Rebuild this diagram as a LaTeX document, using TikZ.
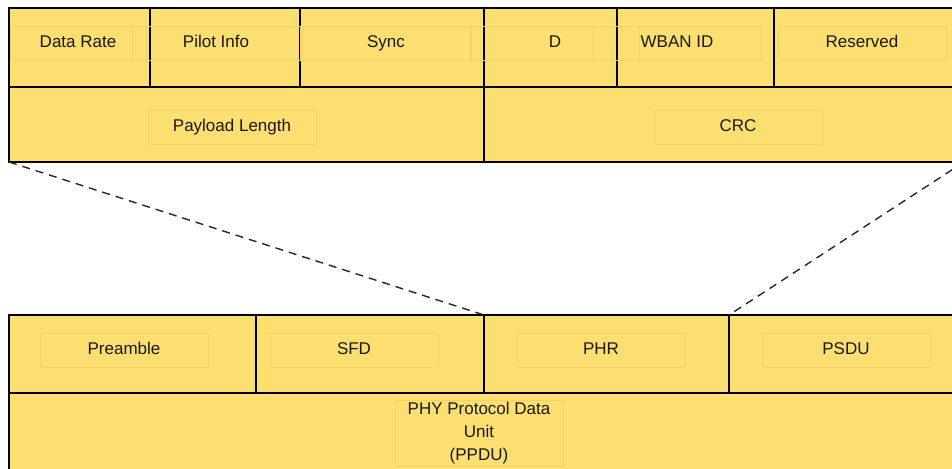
\documentclass[tikz,border=0pt]{standalone}
\usepackage{fontspec}
\setmainfont{Liberation Sans}
\definecolor{hdryellow}{HTML}{FDDF71}
\definecolor{faintedge}{HTML}{EFD36B}
\begin{document}
\begin{tikzpicture}[x=1pt, y=-1pt,
  cell/.style={shape=rectangle, draw=black, line width=1.2pt, fill=hdryellow, anchor=north west, inner sep=0pt, outer sep=0pt},
  fieldtxt/.style={shape=rectangle, draw=faintedge, line width=0.7pt, minimum width=168pt, minimum height=34pt, inner sep=2pt, text height=12.5pt, text depth=3.5pt, font=\fontsize{17}{23}\selectfont, text=black!90},
  zoomline/.style={draw=black!85, line width=1.4pt, dash pattern=on 8pt off 6pt}]
\useasboundingbox (0,0) rectangle (952,468);
% PHR header fields
\node[cell, minimum width=141pt, minimum height=79pt] (h1) at (9,8) {};
\node[cell, minimum width=150pt, minimum height=79pt] (h2) at (150,8) {};
\node[cell, minimum width=184pt, minimum height=79pt] (h3) at (300,8) {};
\node[cell, minimum width=133pt, minimum height=79pt] (h4) at (484,8) {};
\node[cell, minimum width=157pt, minimum height=79pt] (h5) at (617,8) {};
\node[cell, minimum width=190pt, minimum height=79pt] (h6) at (774,8) {};
\node[cell, minimum width=475pt, minimum height=75pt] (p1) at (9,87) {};
\node[cell, minimum width=480pt, minimum height=75pt] (p2) at (484,87) {};
% PPDU frame
\node[cell, minimum width=247pt, minimum height=78pt] (b1) at (9,315) {};
\node[cell, minimum width=228pt, minimum height=78pt] (b2) at (256,315) {};
\node[cell, minimum width=245pt, minimum height=78pt] (b3) at (484,315) {};
\node[cell, minimum width=235pt, minimum height=78pt] (b4) at (729,315) {};
\node[cell, minimum width=955pt, minimum height=90pt] (b5) at (9,393) {};
% labels
\node[fieldtxt, minimum width=136pt] (t1) at (78,43) {Data Rate};
\node[fieldtxt] (t2) at (216,43) {Pilot Info};
\node[fieldtxt] (t3) at (386,43) {Sync};
\node[fieldtxt] (t4) at (555,43) {D};
\node[fieldtxt] (t5) at (677,43) {WBAN ID};
\node[fieldtxt] (t6) at (862,43) {Reserved};
\node[fieldtxt] (t7) at (232,127) {Payload Length};
\node[fieldtxt] (t8) at (738,127) {CRC};
\node[fieldtxt] (t9) at (124,350) {Preamble};
\node[fieldtxt] (t10) at (354,350) {SFD};
\node[fieldtxt] (t11) at (601,350) {PHR};
\node[fieldtxt] (t12) at (846,350) {PSDU};
\node[fieldtxt, align=center, text height=, text depth=] (t13) at (479,433) {PHY Protocol Data\\Unit\\(PPDU)};
% zoom lines
\draw[zoomline] (p1.south west) -- (b3.north west);
\draw[zoomline] (p2.south east) -- (b3.north east);
\end{tikzpicture}
\end{document}
